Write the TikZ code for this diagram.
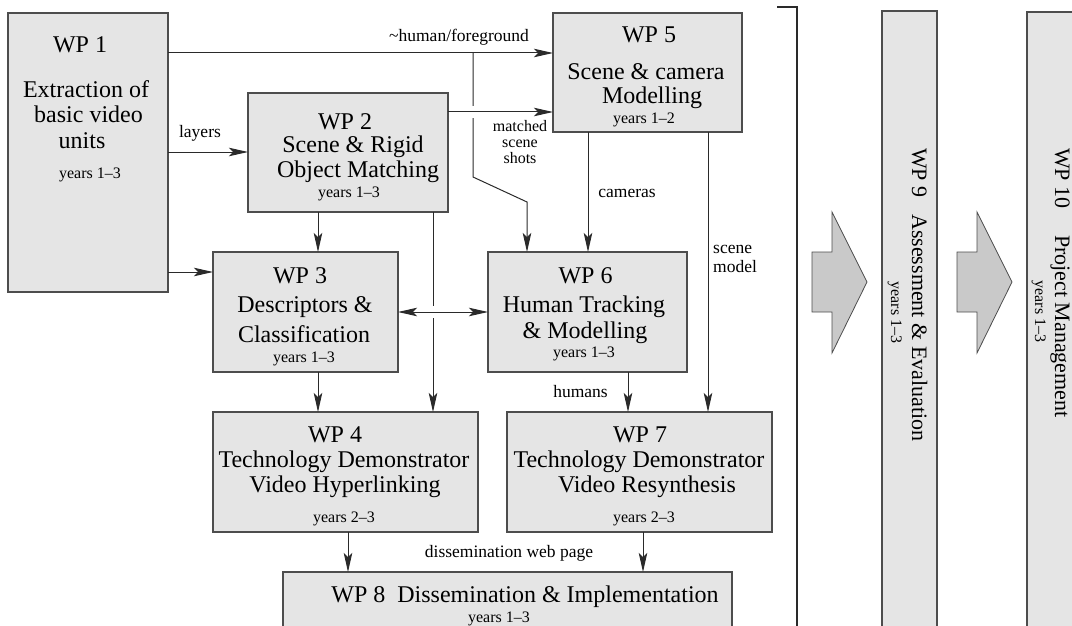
\documentclass[tikz,border=0pt]{standalone}
\usepackage{fontspec}
\setmainfont{Liberation Serif}
\usetikzlibrary{arrows.meta}
\definecolor{boxfill}{HTML}{E5E5E5}
\definecolor{boxline}{HTML}{4D4D4D}
\definecolor{wirecol}{HTML}{2A2A2A}
\definecolor{blockfill}{HTML}{C9C9C9}
\begin{document}
\begin{tikzpicture}[x=1pt,y=-1pt,
  box/.style={draw=boxline, fill=boxfill, line width=1.3pt, inner sep=0pt, outer sep=0pt},
  wire/.style={draw=wirecol, line width=1pt},
  tip/.tip={Stealth[length=19pt,width=8.5pt,inset=4pt]},
  arr/.style={wire, -tip},
  dbl/.style={wire, tip-tip},
  gap/.style={draw=white, line width=3.5pt},
  big/.style={font=\fontsize{24}{28}\selectfont, inner sep=0pt, anchor=base},
  yrs/.style={font=\fontsize{16}{19}\selectfont, inner sep=0pt, anchor=base},
  lab/.style={font=\fontsize{17.5}{20}\selectfont, inner sep=0pt, anchor=base},
  rbig/.style={font=\fontsize{22}{26}\selectfont, inner sep=0pt, anchor=base west, rotate=-90},
  ryrs/.style={font=\fontsize{16}{19}\selectfont, inner sep=0pt, anchor=base, rotate=-90},
  block/.style={draw=boxline, fill=blockfill, line width=0.8pt, line join=miter},
]
\useasboundingbox (0,0) rectangle (1072,626);
\clip (0,0) rectangle (1072,626);

% work package boxes
\node[box, minimum width=160pt, minimum height=279pt] (wp1) at (88,152.5) {};
\node[box, minimum width=200pt, minimum height=119pt] (wp2) at (348,152.5) {};
\node[box, minimum width=185pt, minimum height=120pt] (wp3) at (305.5,312) {};
\node[box, minimum width=189pt, minimum height=119pt] (wp5) at (647.5,72.5) {};
\node[box, minimum width=199pt, minimum height=120pt] (wp6) at (587.5,312) {};
\node[box, minimum width=265pt, minimum height=120pt] (wp4) at (345.5,472) {};
\node[box, minimum width=265pt, minimum height=120pt] (wp7) at (639.5,472) {};
\node[box, minimum width=449pt, minimum height=120pt] (wp8) at (507.5,632) {};
\node[box, minimum width=55pt, minimum height=689pt] (wp9) at (909.5,355.5) {};
\node[box, minimum width=55pt, minimum height=688pt] (wp10) at (1054.5,356) {};

% box texts
\node[big] (wp1-a) at (80,52.7) {WP 1};
\node[big] (wp1-b) at (86,97.7) {Extraction of};
\node[big] (wp1-c) at (88.5,123) {basic video};
\node[big] (wp1-d) at (82,148) {units};
\node[yrs] (wp1-e) at (90,178) {years 1--3};

\node[big] (wp2-a) at (345,129) {WP 2};
\node[big] (wp2-b) at (353,153) {Scene \& Rigid};
\node[big] (wp2-c) at (358,177) {Object Matching};
\node[yrs] (wp2-d) at (349,197) {years 1--3};

\node[big] (wp5-a) at (649,43) {WP 5};
\node[big] (wp5-b) at (646,80) {Scene \& camera};
\node[big] (wp5-c) at (652,103) {Modelling};
\node[yrs] (wp5-d) at (644,124) {years 1--2};

\node[big] (wp3-a) at (300,283) {WP 3};
\node[big] (wp3-b) at (305,312) {Descriptors \&};
\node[big] (wp3-c) at (304,342) {Classification};
\node[yrs] (wp3-d) at (304,362) {years 1--3};

\node[big] (wp6-a) at (585.5,283) {WP 6};
\node[big] (wp6-b) at (584,312) {Human Tracking};
\node[big] (wp6-c) at (585,338) {\& Modelling};
\node[yrs] (wp6-d) at (584,357) {years 1--3};

\node[big] (wp4-a) at (335,442) {WP 4};
\node[big] (wp4-b) at (344,467) {Technology Demonstrator};
\node[big] (wp4-c) at (345,492) {Video Hyperlinking};
\node[yrs] (wp4-d) at (344,522) {years 2--3};

\node[big] (wp7-a) at (640,442) {WP 7};
\node[big] (wp7-b) at (639,467) {Technology Demonstrator};
\node[big] (wp7-c) at (647,492) {Video Resynthesis};
\node[yrs] (wp7-d) at (644,522) {years 2--3};

\node[big] (wp8-a) at (525,602) {WP 8\enspace Dissemination \& Implementation};
\node[yrs] (wp8-b) at (499,622) {years 1--3};

\node[rbig] (wp9-a) at (912,148) {WP 9\hspace{0.75em}Assessment \& Evaluation};
\node[ryrs] (wp9-b) at (891,312.5) {years 1--3};
\node[rbig] (wp10-a) at (1055,148) {WP 10\hspace{1.2em}Project Management};
\node[ryrs] (wp10-b) at (1035,311.5) {years 1--3};

% separator bracket
\draw[draw=wirecol, line width=1.2pt] (777,7) -- (797,7) -- (797,640);

% block arrows between the columns
\draw[block] (812,252) -- (832,252) -- (832,212) -- (867,282) -- (832,353) -- (832,312) -- (812,312) -- cycle;
\draw[block] (957,252) -- (977,252) -- (977,212) -- (1012,282) -- (977,353) -- (977,312) -- (957,312) -- cycle;

% routing rows and columns
\coordinate (r53) at (0,53);
\coordinate (r112) at (0,112);
\coordinate (r152) at (0,152);
\coordinate (r272) at (0,272);
\coordinate (r312) at (0,312);
\coordinate (c318) at (318,0);
\coordinate (c348) at (348,0);
\coordinate (c433) at (433,0);
\coordinate (c527) at (527,0);
\coordinate (c588) at (588,0);
\coordinate (c628) at (628,0);
\coordinate (c643) at (643,0);
\coordinate (c708) at (708,0);
\coordinate (hf) at (473,53);
\coordinate (hfk1) at (473,177);
\coordinate (hfk2) at (527,202);
\coordinate (gapa1) at (473,106);
\coordinate (gapa2) at (473,118);
\coordinate (gapb1) at (433,306);
\coordinate (gapb2) at (433,318);

% connectors
\draw[arr] (wp1.east |- r53) -- (wp5.west |- r53);
\draw[arr] (wp1.east |- r152) -- (wp2.west |- r152);
\draw[arr] (wp1.east |- r272) -- (wp3.west |- r272);
\draw[arr] (hf) -- (hfk1) -- (hfk2) -- (wp6.north -| c527);
\draw[gap] (gapa1) -- (gapa2);
\draw[arr] (wp2.east |- r112) -- (wp5.west |- r112);
\draw[arr] (wp5.south -| c588) -- (wp6.north -| c588);
\draw[arr] (wp5.south -| c708) -- (wp7.north -| c708);
\draw[arr] (wp2.south -| c318) -- (wp3.north -| c318);
\draw[arr] (wp2.south -| c433) -- (wp4.north -| c433);
\draw[gap] (gapb1) -- (gapb2);
\draw[dbl] (wp3.east |- r312) -- (wp6.west |- r312);
\draw[arr] (wp3.south -| c318) -- (wp4.north -| c318);
\draw[arr] (wp6.south -| c628) -- (wp7.north -| c628);
\draw[arr] (wp4.south -| c348) -- (wp8.north -| c348);
\draw[arr] (wp7.south -| c643) -- (wp8.north -| c643);

% connector labels
\node[lab] (l-hf) at (459,42) {\textasciitilde human/foreground};
\node[lab] (l-layers) at (200,137.5) {layers};
\node[lab, anchor=north, align=center, font=\fontsize{16}{16}\selectfont] (l-match) at (520,120.5) {matched\\scene\\shots};
\node[lab] (l-cam) at (627,197) {cameras};
\node[lab, anchor=base west] (l-sm1) at (713,253) {scene};
\node[lab, anchor=base west] (l-sm2) at (713,272) {model};
\node[lab] (l-hum) at (580.5,397) {humans};
\node[lab] (l-dis) at (509,557) {dissemination web page};
\end{tikzpicture}
\end{document}
